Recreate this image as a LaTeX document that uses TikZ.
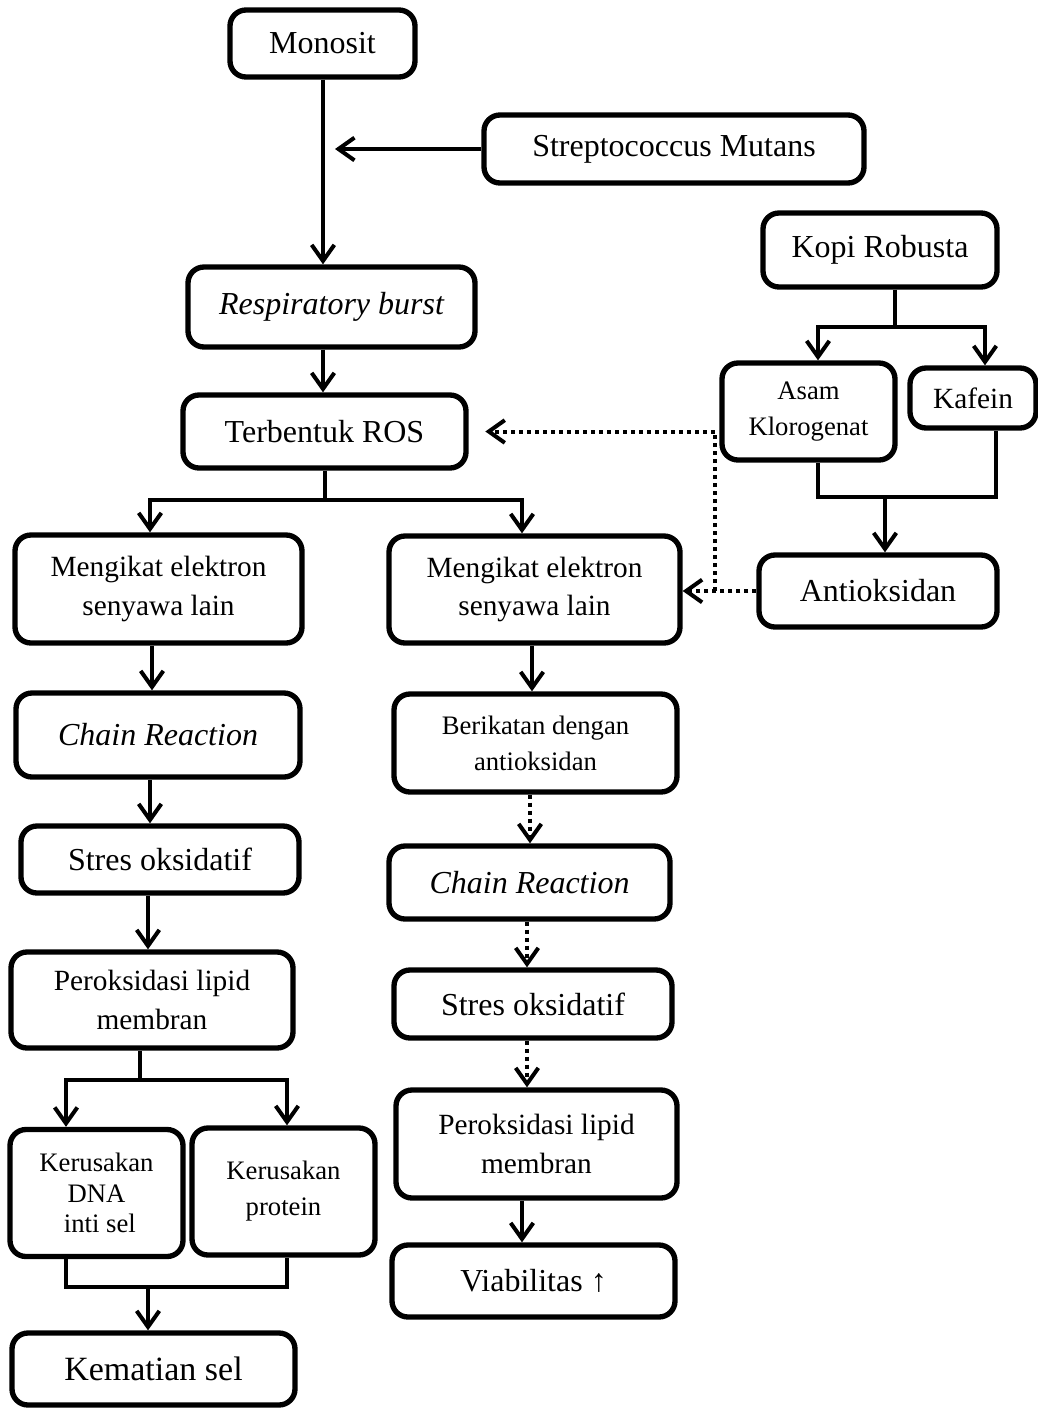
\documentclass[tikz,border=0pt]{standalone}
\usepackage{fontspec}
\setmainfont{Liberation Serif}
\usetikzlibrary{arrows.meta}
\tikzset{
  box/.style={draw, line width=4pt, rounded corners=12pt, align=center, inner sep=0pt, fill=white},
  big/.style={font=\fontsize{24}{30}\selectfont},
  huge/.style={font=\fontsize{25.5}{31}\selectfont},
  mid/.style={font=\fontsize{22}{29}\selectfont},
  small/.style={font=\fontsize{20}{27}\selectfont},
  tiny/.style={font=\fontsize{20}{23}\selectfont},
  conn/.style={line width=3pt},
  dotline/.style={line width=3pt, dash pattern=on 3pt off 3pt},
  >={Straight Barb[length=12pt,width=17pt]}
}
\begin{document}
\begin{tikzpicture}[x=0.75pt,y=-0.75pt]
\path[use as bounding box, fill=white] (0,0) rectangle (1038,1410);

% nodes
\node[box,big,minimum width=138.75pt,minimum height=50.25pt] (mono) at (322.5,43.5) {Monosit};
\node[box,big,minimum width=285pt,minimum height=51pt] (strep) at (674,149) {Streptococcus Mutans};
\node[box,big,minimum width=215.25pt,minimum height=60pt] (resp) at (331.5,307) {\itshape Respiratory burst};
\node[box,big,minimum width=212.25pt,minimum height=54.75pt] (ros) at (324.5,431.5) {Terbentuk ROS};
\node[box,big,minimum width=175.5pt,minimum height=55.5pt] (kopi) at (880,250) {Kopi Robusta};
\node[box,small,minimum width=129.75pt,minimum height=72.75pt] (asam) at (808.5,411.5) {Asam\\Klorogenat};
\node[box,mid,minimum width=94.5pt,minimum height=45pt] (kafein) at (973,398) {Kafein};
\node[box,big,minimum width=178.5pt,minimum height=54pt] (antiox) at (878,591) {Antioksidan};
\node[box,mid,minimum width=215.25pt,minimum height=81pt] (meng1) at (158.5,589) {Mengikat elektron\\senyawa lain};
\node[box,mid,minimum width=218.25pt,minimum height=80.25pt] (meng2) at (534.5,589.5) {Mengikat elektron\\senyawa lain};
\node[box,big,minimum width=213pt,minimum height=63pt] (chain1) at (158,735) {\itshape Chain Reaction};
\node[box,big,minimum width=208.5pt,minimum height=50.25pt] (stres1) at (160,859.5) {Stres oksidatif};
\node[box,mid,minimum width=211.5pt,minimum height=72pt] (perok1) at (152,1000) {Peroksidasi lipid\\membran};
\node[box,tiny,minimum width=129.75pt,minimum height=95.25pt] (dna) at (96.5,1193) {Kerusakan\\DNA\\\ inti sel};
\node[box,small,minimum width=137.25pt,minimum height=95.25pt] (prot) at (283.5,1191.5) {Kerusakan\\protein};
\node[box,huge,minimum width=212.25pt,minimum height=54pt] (mati) at (153.5,1369) {Kematian sel};
\node[box,small,minimum width=212.25pt,minimum height=73.5pt] (berik) at (535.5,743) {Berikatan dengan\\antioksidan};
\node[box,big,minimum width=210.75pt,minimum height=54.75pt] (chain2) at (529.5,882.5) {\itshape Chain Reaction};
\node[box,big,minimum width=208.5pt,minimum height=51pt] (stres2) at (533,1004) {Stres oksidatif};
\node[box,mid,minimum width=210.75pt,minimum height=81pt] (perok2) at (536.5,1144) {Peroksidasi lipid\\membran};
\node[box,big,minimum width=212.25pt,minimum height=54pt] (viab) at (533.5,1281) {Viabilitas ↑};

% junction coordinates
\coordinate (sj) at (335,149);
\coordinate (j1) at (325,500);
\coordinate (jr) at (895,327);
\coordinate (jk) at (885,497);
\coordinate (jp) at (140,1080);
\coordinate (jb) at (148,1287);
\coordinate (jd) at (715,591);
\coordinate (rosin) at ([xshift=12.5pt]ros.east);

% connectors
\draw[conn,->] (mono.south -| 323,0) -- (resp.north -| 323,0);
\draw[conn,->] (strep.west) -- (sj);
\draw[conn,->] (resp.south -| 323,0) -- (ros.north -| 323,0);
\draw[conn] (ros.south -| j1) -- (j1);
\draw[conn,->] (j1) -| (meng1.north -| 150,0);
\draw[conn,->] (j1) -| (meng2.north -| 522,0);

\draw[conn,->] (meng1.south -| 152,0) -- (chain1.north -| 152,0);
\draw[conn,->] (chain1.south -| 150,0) -- (stres1.north -| 150,0);
\draw[conn,->] (stres1.south -| 148,0) -- (perok1.north -| 148,0);
\draw[conn] (perok1.south -| jp) -- (jp);
\draw[conn,->] (jp) -| (dna.north -| 66,0);
\draw[conn,->] (jp) -| (prot.north -| 287,0);
\draw[conn] (dna.south -| 66,0) |- (jb) -| (prot.south -| 287,0);
\draw[conn,->] (jb) -- (mati.north -| jb);

\draw[conn] (kopi.south -| jr) -- (jr);
\draw[conn,->] (jr) -| (asam.north -| 818,0);
\draw[conn,->] (jr) -| (kafein.north -| 985,0);
\draw[conn] (asam.south -| 818,0) |- (jk) -| (kafein.south -| 996,0);
\draw[conn,->] (jk) -- (antiox.north -| jk);

\draw[dotline,->] (antiox.west) -- (antiox.west -| meng2.east);
\draw[dotline,->] (jd) |- (rosin);

\draw[conn,->] (meng2.south -| 532,0) -- (berik.north -| 532,0);
\draw[dotline,->] (berik.south -| 530,0) -- (chain2.north -| 530,0);
\draw[dotline,->] (chain2.south -| 527,0) -- (stres2.north -| 527,0);
\draw[dotline,->] (stres2.south -| 527,0) -- (perok2.north -| 527,0);
\draw[conn,->] (perok2.south -| 522,0) -- (viab.north -| 522,0);
\end{tikzpicture}
\end{document}
